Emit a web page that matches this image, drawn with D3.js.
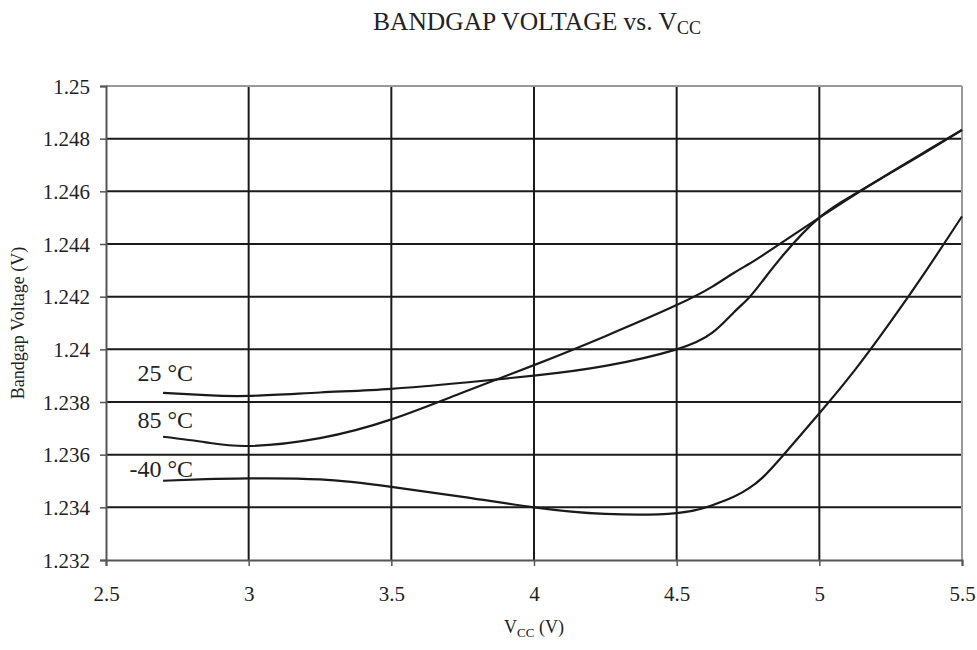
<!DOCTYPE html>
<html>
<head>
<meta charset="utf-8">
<script src="https://cdn.jsdelivr.net/npm/d3@7"></script>
<style>
  body { margin: 0; background: #fff; }
  svg { display: block; }
  svg text { font-family: "Liberation Serif", "Times New Roman", serif !important; fill: #222; }
</style>
</head>
<body>
<svg id="chart" width="977" height="650"></svg>
<script>
// ---- data ----
const vcc = [2.7, 2.85, 3.0, 3.25, 3.5, 3.75, 4.0, 4.25, 4.5, 4.625, 4.7, 4.75, 4.8, 4.875, 5.0, 5.125, 5.25, 5.375, 5.5];
const t25 = [1.23835, 1.23826, 1.23823, 1.23836, 1.2385, 1.23873, 1.2390, 1.23937, 1.2400, 1.24063, 1.2414, 1.24192, 1.24258, 1.2436, 1.2450, 1.2459, 1.2467, 1.2475, 1.24833];
const t85 = [1.23668, 1.23647, 1.23633, 1.23663, 1.23734, 1.23836, 1.2394, 1.2405, 1.24168, 1.24238, 1.2429, 1.24322, 1.24356, 1.2441, 1.2450, 1.24588, 1.24672, 1.24753, 1.24833];
const tm40 = [1.23501, 1.23507, 1.2351, 1.23506, 1.23478, 1.2344, 1.2340, 1.23375, 1.23378, 1.23408, 1.2344, 1.2347, 1.23512, 1.2360, 1.23757, 1.23922, 1.24105, 1.2430, 1.24505];
const seriesNames = ["25 °C", "85 °C", "-40 °C"];
const labelAnchor = [1.2388, 1.2370, 1.23515];
const xTicks = [2.5, 3, 3.5, 4, 4.5, 5, 5.5];
const yTicks = [1.232, 1.234, 1.236, 1.238, 1.24, 1.242, 1.244, 1.246, 1.248, 1.25];

// ---- layout ----
const svg = d3.select("#chart");
const L = 106, R = 962, T = 86, B = 560;
const x = d3.scaleLinear().domain([2.5, 5.5]).range([L, R]);
const y = d3.scaleLinear().domain([1.232, 1.25]).range([B, T]);
const FONT = "Liberation Serif, Times New Roman, serif";

// grid
const g = svg.append("g");
g.selectAll("line.h").data(yTicks.slice(1, -1)).enter().append("line")
  .attr("x1", L).attr("x2", R).attr("y1", d => y(d)).attr("y2", d => y(d))
  .attr("stroke", "#1a1a1a").attr("stroke-width", 2);
g.selectAll("line.v").data(xTicks.slice(1, -1)).enter().append("line")
  .attr("y1", T).attr("y2", B).attr("x1", d => x(d)).attr("x2", d => x(d))
  .attr("stroke", "#1a1a1a").attr("stroke-width", 2);
// frame: top/right grey
svg.append("line").attr("x1", L).attr("x2", R).attr("y1", T).attr("y2", T).attr("stroke", "#999").attr("stroke-width", 2);
svg.append("line").attr("x1", R).attr("x2", R).attr("y1", T).attr("y2", B).attr("stroke", "#999").attr("stroke-width", 2);

// axes
const yAxis = d3.axisLeft(y).tickValues(yTicks).tickSize(6).tickPadding(10).tickFormat(d => String(d));
const xAxis = d3.axisBottom(x).tickValues(xTicks).tickSize(6).tickPadding(20).tickFormat(d => String(d));
const ya = svg.append("g").attr("transform", `translate(${L},0)`).call(yAxis);
const xa = svg.append("g").attr("transform", `translate(0,${B})`).call(xAxis);
[ya, xa].forEach(a => {
  a.attr("font-family", FONT).attr("font-size", 21);
  a.select(".domain").attr("stroke", "#555").attr("stroke-width", 2);
  a.selectAll(".tick line").attr("stroke", "#555").attr("stroke-width", 1.5);
  a.selectAll(".tick text").attr("fill", "#222");
});
ya.selectAll(".tick text").attr("dy", "0.34em");

// curves
const line = d3.line().x(d => x(d[0])).y(d => y(d[1])).curve(d3.curveNatural);
[t25, t85, tm40].forEach(s => {
  svg.append("path").datum(vcc.map((v, k) => [v, s[k]]))
    .attr("d", line).attr("fill", "none").attr("stroke", "#1a1a1a").attr("stroke-width", 2.2);
});

// series labels
seriesNames.forEach((n, i) => {
  svg.append("text").attr("x", x(2.7) + 30).attr("y", y(labelAnchor[i]))
    .attr("text-anchor", "end").attr("font-size", 24).text(n);
});

// title
const title = svg.append("text").attr("x", 537).attr("y", 30).attr("text-anchor", "middle").attr("font-size", 25.5);
title.append("tspan").text("BANDGAP VOLTAGE vs. V");
title.append("tspan").attr("font-size", 18).attr("dy", 4).text("CC");

// x axis title
const xt = svg.append("text").attr("x", x(4)).attr("y", 633).attr("text-anchor", "middle").attr("font-size", 18);
xt.append("tspan").text("V");
xt.append("tspan").attr("font-size", 13).attr("dy", 4).text("CC");
xt.append("tspan").attr("dy", -4).text(" (V)");

// y axis title
svg.append("text").attr("transform", `translate(24,${(T + B) / 2}) rotate(-90)`)
  .attr("text-anchor", "middle").attr("font-size", 18).text("Bandgap Voltage (V)");
</script>
</body>
</html>
